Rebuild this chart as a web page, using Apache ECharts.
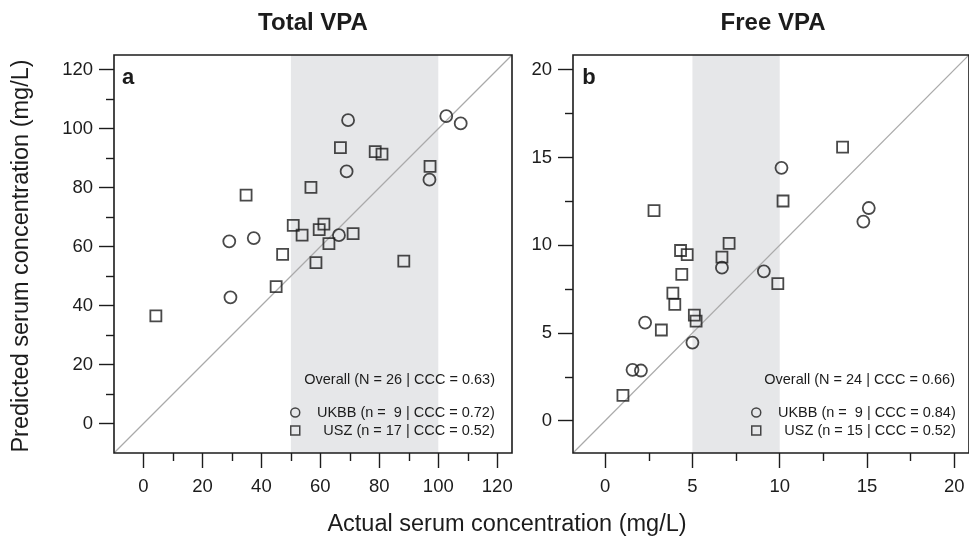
<!DOCTYPE html>
<html>
<head>
<meta charset="utf-8">
<script src="https://cdn.jsdelivr.net/npm/echarts@6/dist/echarts.min.js"></script>
<style>
  html, body { margin: 0; padding: 0; background: #fff; }
  #main { width: 969px; height: 544px; }
</style>
</head>
<body>
<div id="main"></div>
<script>
// panel a: Total VPA (mg/L)
const ukbbTotal = [
  [69.4, 102.9], [102.7, 104.3], [107.6, 101.8], [68.9, 85.5], [97.0, 82.7],
  [29.1, 61.8], [37.4, 62.9], [66.3, 63.9], [29.5, 42.8]
];
const uszTotal = [
  [66.8, 93.6], [78.6, 92.2], [80.9, 91.4], [97.2, 87.2], [56.8, 80.1],
  [34.8, 77.5], [50.8, 67.2], [61.2, 67.6], [59.6, 65.8], [53.8, 63.9],
  [71.1, 64.4], [62.9, 61.0], [47.2, 57.4], [58.5, 54.6], [88.3, 55.1],
  [45.0, 46.4], [4.2, 36.5]
];
// panel b: Free VPA (mg/L)
const ukbbFree = [
  [10.1, 14.41], [15.1, 12.12], [14.79, 11.35], [6.69, 8.72], [9.09, 8.51],
  [2.29, 5.59], [5.0, 4.45], [1.57, 2.9], [2.05, 2.86]
];
const uszFree = [
  [13.6, 15.59], [10.19, 12.52], [2.8, 11.97], [7.1, 10.11], [4.32, 9.7],
  [4.7, 9.47], [6.69, 9.32], [4.39, 8.34], [9.89, 7.81], [3.88, 7.27],
  [3.99, 6.63], [5.11, 6.02], [5.21, 5.68], [3.22, 5.17], [1.02, 1.44]
];

const limA = [-10, 125];
const limB = [-1.84, 20.84];
const bandA = [50, 100];
const bandB = [5, 10];
const majorA = [0, 20, 40, 60, 80, 100, 120];
const minorA = [10, 30, 50, 70, 90, 110];
const majorB = [0, 5, 10, 15, 20];
const minorB = [2.5, 7.5, 12.5, 17.5];

const legendA = { UKBB: 'UKBB (n =  9 | CCC = 0.72)', USZ: 'USZ (n = 17 | CCC = 0.52)' };
const legendB = { UKBB: 'UKBB (n =  9 | CCC = 0.84)', USZ: 'USZ (n = 15 | CCC = 0.52)' };
const overallA = 'Overall (N = 26 | CCC = 0.63)';
const overallB = 'Overall (N = 24 | CCC = 0.66)';

const FONT = 'Liberation Sans, Arial, Helvetica, sans-serif';
const INK = '#1c1c1c';

const myChart = echarts.init(document.getElementById('main'), null, { renderer: 'canvas' });

function axisPair(dim, grid, lim, major, minor) {
  const base = {
    type: 'value', gridIndex: grid, min: lim[0], max: lim[1],
    position: dim === 'x' ? 'bottom' : 'left',
    axisLine: { show: false, onZero: false }, splitLine: { show: false }
  };
  return [
    Object.assign({}, base, {
      axisTick: { show: true, customValues: major, length: 15, lineStyle: { color: INK, width: 1.4 } },
      axisLabel: {
        show: true, customValues: major, color: INK, fontSize: 18.5, fontFamily: FONT,
        margin: dim === 'x' ? 24 : 21
      }
    }),
    Object.assign({}, base, {
      axisTick: { show: true, customValues: minor, length: 8, lineStyle: { color: INK, width: 1.4 } },
      axisLabel: { show: false }
    })
  ];
}

const pointStyle = { color: 'transparent', borderColor: INK, borderWidth: 1.8 };

function panelSeries(ax, lim, band, ukbb, usz) {
  return [
    {
      type: 'scatter', xAxisIndex: ax, yAxisIndex: ax, data: [], z: 1, silent: true,
      markArea: {
        silent: true, itemStyle: { color: '#e6e7e9' },
        data: [[{ xAxis: band[0] }, { xAxis: band[1] }]]
      }
    },
    {
      type: 'line', xAxisIndex: ax, yAxisIndex: ax, z: 2, silent: true,
      data: [[lim[0], lim[0]], [lim[1], lim[1]]],
      symbol: 'none', lineStyle: { color: '#aaa', width: 1.2 }
    },
    {
      name: 'UKBB', type: 'scatter', xAxisIndex: ax, yAxisIndex: ax, z: 3,
      symbol: 'circle', symbolSize: 12, data: ukbb, itemStyle: pointStyle
    },
    {
      name: 'USZ', type: 'scatter', xAxisIndex: ax, yAxisIndex: ax, z: 3,
      symbol: 'rect', symbolSize: 11, data: usz, itemStyle: pointStyle
    }
  ];
}

function legendFor(left, texts) {
  return {
    left: left, top: 405, orient: 'vertical', padding: 0, itemGap: 3, z: 20,
    itemWidth: 9, itemHeight: 9, itemTextGap: 4, selectedMode: false,
    data: [{ name: 'UKBB', icon: 'circle' }, { name: 'USZ', icon: 'rect' }],
    itemStyle: { color: 'transparent', borderColor: INK, borderWidth: 1.5 },
    formatter: (name) => `{t|${texts[name]}}`,
    textStyle: {
      rich: { t: { width: 190, align: 'right', fontSize: 14.5, lineHeight: 16.5, fontFamily: FONT, color: INK } }
    }
  };
}

function txt(text, x, y, font, align, rotation) {
  return {
    type: 'text', x: x, y: y, z: 100, rotation: rotation || 0, silent: true,
    style: { text: text, font: font, fill: INK, align: align || 'center', verticalAlign: 'middle' }
  };
}

const xA = axisPair('x', 0, limA, majorA, minorA);
const yA = axisPair('y', 0, limA, majorA, minorA);
const xB = axisPair('x', 1, limB, majorB, minorB);
const yB = axisPair('y', 1, limB, majorB, minorB);

myChart.setOption({
  animation: false,
  backgroundColor: '#fff',
  grid: [
    { left: 114, top: 55, width: 398, height: 398, show: true, z: 10, borderColor: INK, borderWidth: 1.6, backgroundColor: 'transparent' },
    { left: 573, top: 55, width: 399, height: 398, show: true, z: 10, borderColor: INK, borderWidth: 1.6, backgroundColor: 'transparent' }
  ],
  xAxis: [...xA, ...xB],
  yAxis: [...yA, ...yB],
  legend: [legendFor(290, legendA), legendFor(751, legendB)],
  series: [
    ...panelSeries(0, limA, bandA, ukbbTotal, uszTotal),
    ...panelSeries(2, limB, bandB, ukbbFree, uszFree)
  ],
  graphic: [
    txt('Total VPA', 313, 23, `bold 24px ${FONT}`),
    txt('Free VPA', 773, 23, `bold 24px ${FONT}`),
    txt('a', 128, 78, `bold 22px ${FONT}`),
    txt('b', 589, 78, `bold 22px ${FONT}`),
    txt(overallA, 495, 380, `14.5px ${FONT}`, 'right'),
    txt(overallB, 955, 380, `14.5px ${FONT}`, 'right'),
    txt('Actual serum concentration (mg/L)', 507, 525, `23.5px ${FONT}`),
    txt('Predicted serum concentration (mg/L)', 22, 256, `23.5px ${FONT}`, 'center', Math.PI / 2)
  ]
});
</script>
</body>
</html>
